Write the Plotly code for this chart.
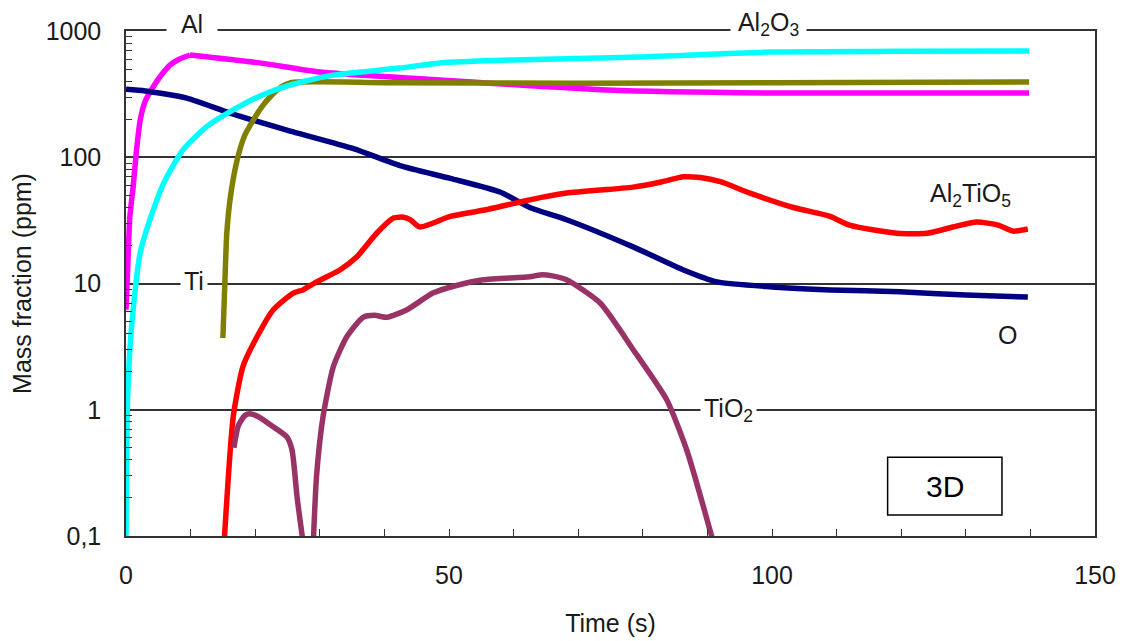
import numpy as np
import plotly.graph_objects as go

# ---- data ----
t_al_rise = [0, 0.3, 0.6, 1.1, 1.6, 2.2, 3.0, 4.2, 5.5, 6.8, 8.3, 9.9]
al_rise = [6.2, 15, 34, 58, 110, 197, 280, 360, 450, 537, 600, 646]
t_al_fall = [9.9, 20.7, 30, 48.6, 74.5, 99.7, 120, 139.8]
al_fall = [646, 559, 473, 409, 341, 323, 323, 323]

t_al2o3 = [0, 0.2, 0.6, 1.1, 2.2, 3.7, 6.0, 8.8, 12.5, 16.6, 21, 25.4, 32, 42.4, 48.6, 60, 79.6, 99.7, 120, 139.8]
al2o3 = [0.1, 1, 3, 6.2, 17.5, 32, 65, 114, 175, 237, 310, 373, 447, 509, 559, 590, 623, 682, 690, 695]

t_ti = [15.0, 15.3, 15.6, 16.2, 17.2, 18.4, 19.7, 21, 22.3, 24, 25.5, 40, 70, 100, 139.8]
ti = [3.7, 10, 25, 50, 95, 150, 197, 250, 300, 360, 390, 390, 385, 390, 395]

t_o = [0, 3, 9.4, 16.1, 24.9, 35.2, 42.4, 50.2, 57.9, 62.5, 68.2, 78.5, 86.3, 91.5, 100, 109, 119.8, 130, 139.6]
o = [345, 335, 294, 224, 164, 117, 86, 68, 53, 40, 32, 19.5, 12.8, 10.3, 9.4, 8.9, 8.6, 8.1, 7.8]

t_al2tio5 = [15.2, 16.6, 18.1, 20.3, 22.8, 25.9, 27.4, 29.5, 33.1, 35.7, 38.8, 41.4, 43, 44, 45.5,
             50.2, 55.3, 62.5, 68.2, 78.5, 83, 86.3, 88.9, 92, 96.6, 103.3, 109, 112, 119.3,
             124, 128, 131.7, 135, 137.3, 139.6]
al2tio5 = [0.09, 0.88, 2.2, 3.8, 6.2, 8.4, 8.9, 10.3, 12.8, 16.2, 25, 33, 33.5, 32, 28,
           34, 38, 46, 52, 58, 64, 70, 69, 64, 52, 40, 34, 29, 25,
           25, 28, 30.7, 29, 26, 27]

t_tio2 = [16.7, 17.4, 18.4, 19.2, 20.5, 22.5, 24.9, 25.7, 26.5, 27.4, None,
          29.0, 29.5, 30.5, 32.1, 34.2, 36.7, 38.5, 40.4, 43.5, 47.5, 51, 55.3, 62.5,
          64.1, 66, 68.2, 73.4, 78.5, 83.7, 86.8, 90.9]
tio2 = [0.5, 0.75, 0.9, 0.93, 0.88, 0.75, 0.61, 0.48, 0.2, 0.09, None,
        0.09, 0.3, 0.88, 2.2, 3.8, 5.4, 5.6, 5.4, 6.2, 8.4, 9.6, 10.7, 11.3,
        11.7, 11.5, 10.7, 7, 3, 1.2, 0.48, 0.09]

x_tickvals = [0, 50, 100, 150]
y_tickvals = [0.1, 1, 10, 100, 1000]
y_ticktext = ["0,1", "1", "10", "100", "1000"]
y_minor = [k * 10.0 ** e for e in range(-1, 3) for k in range(2, 10)]

FONT = "Arial, Liberation Sans, sans-serif"
AX = "#333333"
TXT = "#1a1a1a"
FS = 25

fig = go.Figure()

def add(x, y, color, shape="spline"):
    fig.add_trace(go.Scatter(x=x, y=y, mode="lines",
                             line=dict(color=color, width=5.5, shape=shape, smoothing=0.6),
                             connectgaps=False, hoverinfo="skip"))

add(t_al_rise, al_rise, "#FF00FF")
add(t_al_fall, al_fall, "#FF00FF")
add(t_o, o, "#000080")
add(t_al2tio5, al2tio5, "#FF0000")
add(t_tio2, tio2, "#993366")
add(t_ti, ti, "#808000")
add(t_al2o3, al2o3, "#00FFFF")

# page body has an 8px margin: figure sized/positioned so the plot area lands where the reference has it
fig.update_layout(
    width=1117, height=633,
    margin=dict(l=118, r=30, t=23, b=105),
    plot_bgcolor="white", paper_bgcolor="white",
    showlegend=False,
    font=dict(family=FONT, size=FS, color=TXT),
)

fig.update_xaxes(
    range=[0, 150], tickvals=x_tickvals, automargin=False,
    ticks="inside", ticklen=7, tickwidth=1.2, tickcolor=AX,
    minor=dict(dtick=10, ticks="inside", ticklen=7, tickwidth=1.2, tickcolor=AX, showgrid=False),
    showline=True, linecolor=AX, linewidth=1.5, mirror=True,
    showgrid=False, zeroline=False, ticklabelstandoff=16,
    tickfont=dict(size=FS, color=TXT),
    title=dict(text="Time (s)", font=dict(size=FS, color=TXT), standoff=27),
)
fig.update_yaxes(
    type="log", range=[-1, 3], tickvals=y_tickvals, ticktext=y_ticktext, automargin=False,
    ticks="", showline=True, linecolor=AX, linewidth=1.5, mirror=True,
    showgrid=True, gridcolor=AX, gridwidth=1.5, zeroline=False,
    minor=dict(tickvals=y_minor, ticks="inside", ticklen=6, tickwidth=1.2,
               tickcolor=AX, showgrid=False),
    ticklabelstandoff=18,
    tickfont=dict(size=FS, color=TXT),
    title=dict(text="Mass fraction (ppm)", font=dict(size=FS, color=TXT), standoff=12),
)

labels = [
    ("&nbsp;&nbsp;Al&nbsp;&nbsp;", 10.2, 1000, 7, 0),
    ("&nbsp;Al<sub>2</sub>O<sub>3</sub>&nbsp;", 99.4, 1000, 7, 0),
    ("Ti", 10.5, 10, 3, 3),
    ("TiO<sub>2</sub>", 93.2, 1, 0, 3),
    ("Al<sub>2</sub>TiO<sub>5</sub>", 130.8, 50, 0, 3),
    ("O", 136.5, 3.9, 0, 3),
]
for txt, xv, yv, ys, pad in labels:
    fig.add_annotation(x=xv, y=np.log10(yv), xref="x", yref="y", text=txt,
                       showarrow=False, bgcolor="white", borderpad=pad, yshift=ys,
                       xanchor="center", yanchor="middle",
                       font=dict(family=FONT, size=FS, color=TXT))

fig.add_shape(type="rect", xref="paper", yref="paper",
              x0=0.786, x1=0.904, y0=0.0416, y1=0.156,
              line=dict(color="black", width=1.5), fillcolor="white", layer="above")
fig.add_annotation(xref="paper", yref="paper", x=0.845, y=0.099, text="3D",
                   xanchor="center", yanchor="middle",
                   showarrow=False, font=dict(family=FONT, size=30, color="black"))

fig.write_html("out.html")
